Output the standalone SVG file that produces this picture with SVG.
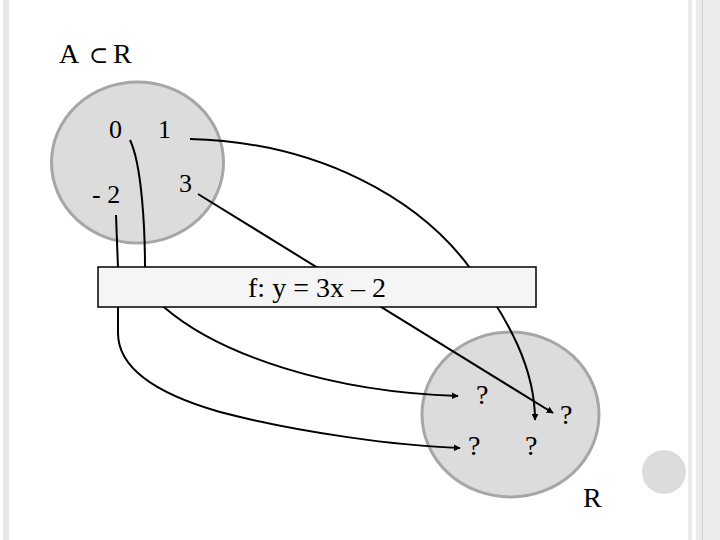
<svg xmlns="http://www.w3.org/2000/svg" width="720" height="540" viewBox="0 0 720 540">
<defs>
<style>
.t{font-family:"Liberation Serif","Times New Roman",serif;fill:#000}
.set{fill:#dcdcdc;stroke:#a6a6a6;stroke-width:3}
.c{fill:none;stroke:#000;stroke-width:2}
</style>
<marker id="ah" viewBox="0 0 10 10" refX="9" refY="5" markerWidth="3.5" markerHeight="3.5" orient="auto" markerUnits="strokeWidth">
<path d="M0,0 L10,5 L0,10 z" fill="#000"/>
</marker>
</defs>
<rect width="720" height="540" fill="#fff"/>
<g id="frame">
<rect x="3" y="0" width="6" height="540" fill="#e8e8e8"/>
<rect x="688" y="0" width="4" height="540" fill="#ebebeb"/>
<rect x="696" y="0" width="24" height="540" fill="#ebebeb"/>
<rect x="702" y="0" width="1" height="540" fill="#d0d0d0"/>
</g>
<g id="title"><text class="t" font-size="28" y="63"><tspan x="59">A</tspan><tspan x="89" font-family="DejaVu Serif, serif" font-size="23">⊂</tspan><tspan x="113">R</tspan></text></g>
<g id="setA">
<ellipse class="set" cx="137.5" cy="162.5" rx="86" ry="80.5"/>
<text class="t" font-size="26" x="109" y="138">0</text>
<text class="t" font-size="26" x="158" y="138">1</text>
<text class="t" font-size="26" x="179" y="192">3</text>
<text class="t" font-size="26" x="92" y="203">- 2</text>
</g>
<g id="setR">
<ellipse class="set" cx="510.5" cy="414.5" rx="88.5" ry="82.5"/>
<text class="t" font-size="28" x="476" y="404">?</text>
<text class="t" font-size="28" x="468" y="455">?</text>
<text class="t" font-size="28" x="525" y="455">?</text>
<text class="t" font-size="28" x="560" y="424">?</text>
<text class="t" font-size="28" x="583" y="507">R</text>
</g>
<g id="dot"><circle cx="664" cy="472" r="22" fill="#dcdcdc"/></g>
<g id="connectors">
<path class="c" d="M130,140 C142,165 145,230 145,268 C146,290 152,300 165,308 C220,355 330,392 458,396" marker-end="url(#ah)"/>
<path class="c" d="M116,215 L118,268 L118,333 C118,365 150,392 220,412 C300,433 400,446 460,448" marker-end="url(#ah)"/>
<path class="c" d="M190,139 C320,142 420,200 470,268 C510,320 535,370 535,420" marker-end="url(#ah)"/>
<path class="c" d="M198,194 L553,413" marker-end="url(#ah)"/>
</g>
<g id="func">
<rect x="98" y="267" width="438" height="40" fill="#f5f5f5" stroke="#000" stroke-width="1.5"/>
<text class="t" font-size="28" x="317" y="297" text-anchor="middle">f: y = 3x – 2</text>
</g>
</svg>
